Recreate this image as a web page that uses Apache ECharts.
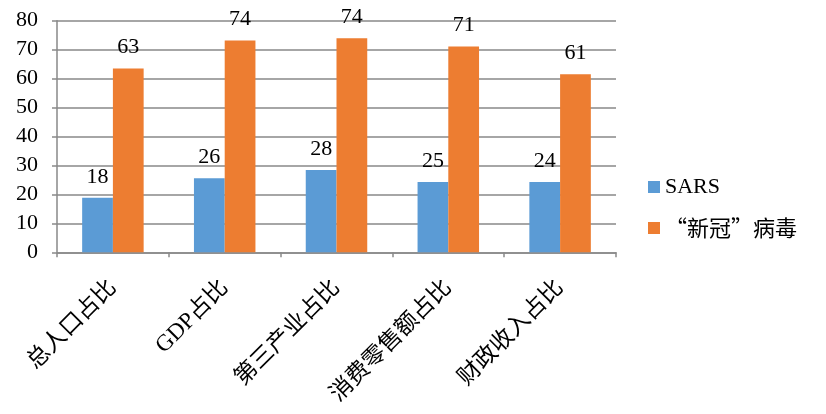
<!DOCTYPE html>
<html>
<head>
<meta charset="utf-8">
<script src="https://cdn.jsdelivr.net/npm/echarts@6/dist/echarts.min.js"></script>
<style>
html,body{margin:0;padding:0;background:#fff;}
#chart{width:826px;height:414px;}
</style>
</head>
<body>
<div id="chart"></div>
<script>
var categories = ['总人口占比', 'GDP占比', '第三产业占比', '消费零售额占比', '财政收入占比'];
var sarsValues = [18.8, 25.6, 28.4, 24.3, 24.3];
var covidValues = [63.5, 73.2, 73.9, 71.1, 61.5];
var sarsLabels = ['18', '26', '28', '25', '24'];
var covidLabels = ['63', '74', '74', '71', '61'];
var yTicks = [0, 10, 20, 30, 40, 50, 60, 70, 80];
var seriesNames = ['SARS', '“新冠”病毒'];

var FONT = "'Times New Roman', 'Liberation Serif', 'Noto Sans CJK SC', serif";
var CJKFONT = "'Noto Sans CJK SC', 'Liberation Serif', serif";
var gridColor = '#898989';

var chart = echarts.init(document.getElementById('chart'), null, {renderer: 'canvas'});
chart.setOption({
  animation: false,
  backgroundColor: '#ffffff',
  textStyle: {fontFamily: FONT},
  grid: {left: 57, right: 210, top: 20.7, bottom: 161.7, containLabel: false},
  legend: {
    orient: 'vertical',
    left: 643,
    top: 171,
    itemWidth: 12,
    itemHeight: 12,
    itemGap: 19,
    icon: 'rect',
    data: [
      {name: seriesNames[0], textStyle: {fontFamily: FONT, fontSize: 22, color: '#000'}},
      {name: seriesNames[1], textStyle: {fontFamily: CJKFONT, fontSize: 22, color: '#000'}}
    ],
    textStyle: {fontFamily: FONT, fontSize: 22, color: '#000'}
  },
  xAxis: {
    type: 'category',
    data: categories,
    axisLine: {show: true, lineStyle: {color: gridColor, width: 1.5}},
    axisTick: {show: true, length: 5, lineStyle: {color: gridColor, width: 1.5}},
    axisLabel: {rotate: 45, margin: 32, fontSize: 23, color: '#000', fontFamily: FONT, interval: 0}
  },
  yAxis: {
    type: 'value',
    min: yTicks[0],
    max: yTicks[yTicks.length - 1],
    interval: 10,
    axisLine: {show: true, lineStyle: {color: gridColor, width: 1.5}},
    axisTick: {show: true, length: 5, lineStyle: {color: gridColor, width: 1.5}},
    splitLine: {show: true, lineStyle: {color: gridColor, width: 1.5}},
    axisLabel: {margin: 19, fontSize: 22, color: '#000', fontFamily: FONT}
  },
  series: [
    {
      name: seriesNames[0],
      type: 'bar',
      data: sarsValues,
      barGap: '0%',
      barCategoryGap: '45%',
      itemStyle: {color: '#5B9BD5'},
      label: {show: true, position: 'top', distance: 10, fontSize: 22, color: '#000', fontFamily: FONT,
        formatter: function (p) { return sarsLabels[p.dataIndex]; }}
    },
    {
      name: seriesNames[1],
      type: 'bar',
      data: covidValues,
      barGap: '0%',
      barCategoryGap: '45%',
      itemStyle: {color: '#ED7D31'},
      label: {show: true, position: 'top', distance: 10, fontSize: 22, color: '#000', fontFamily: FONT,
        formatter: function (p) { return covidLabels[p.dataIndex]; }}
    }
  ]
});
</script>
</body>
</html>
